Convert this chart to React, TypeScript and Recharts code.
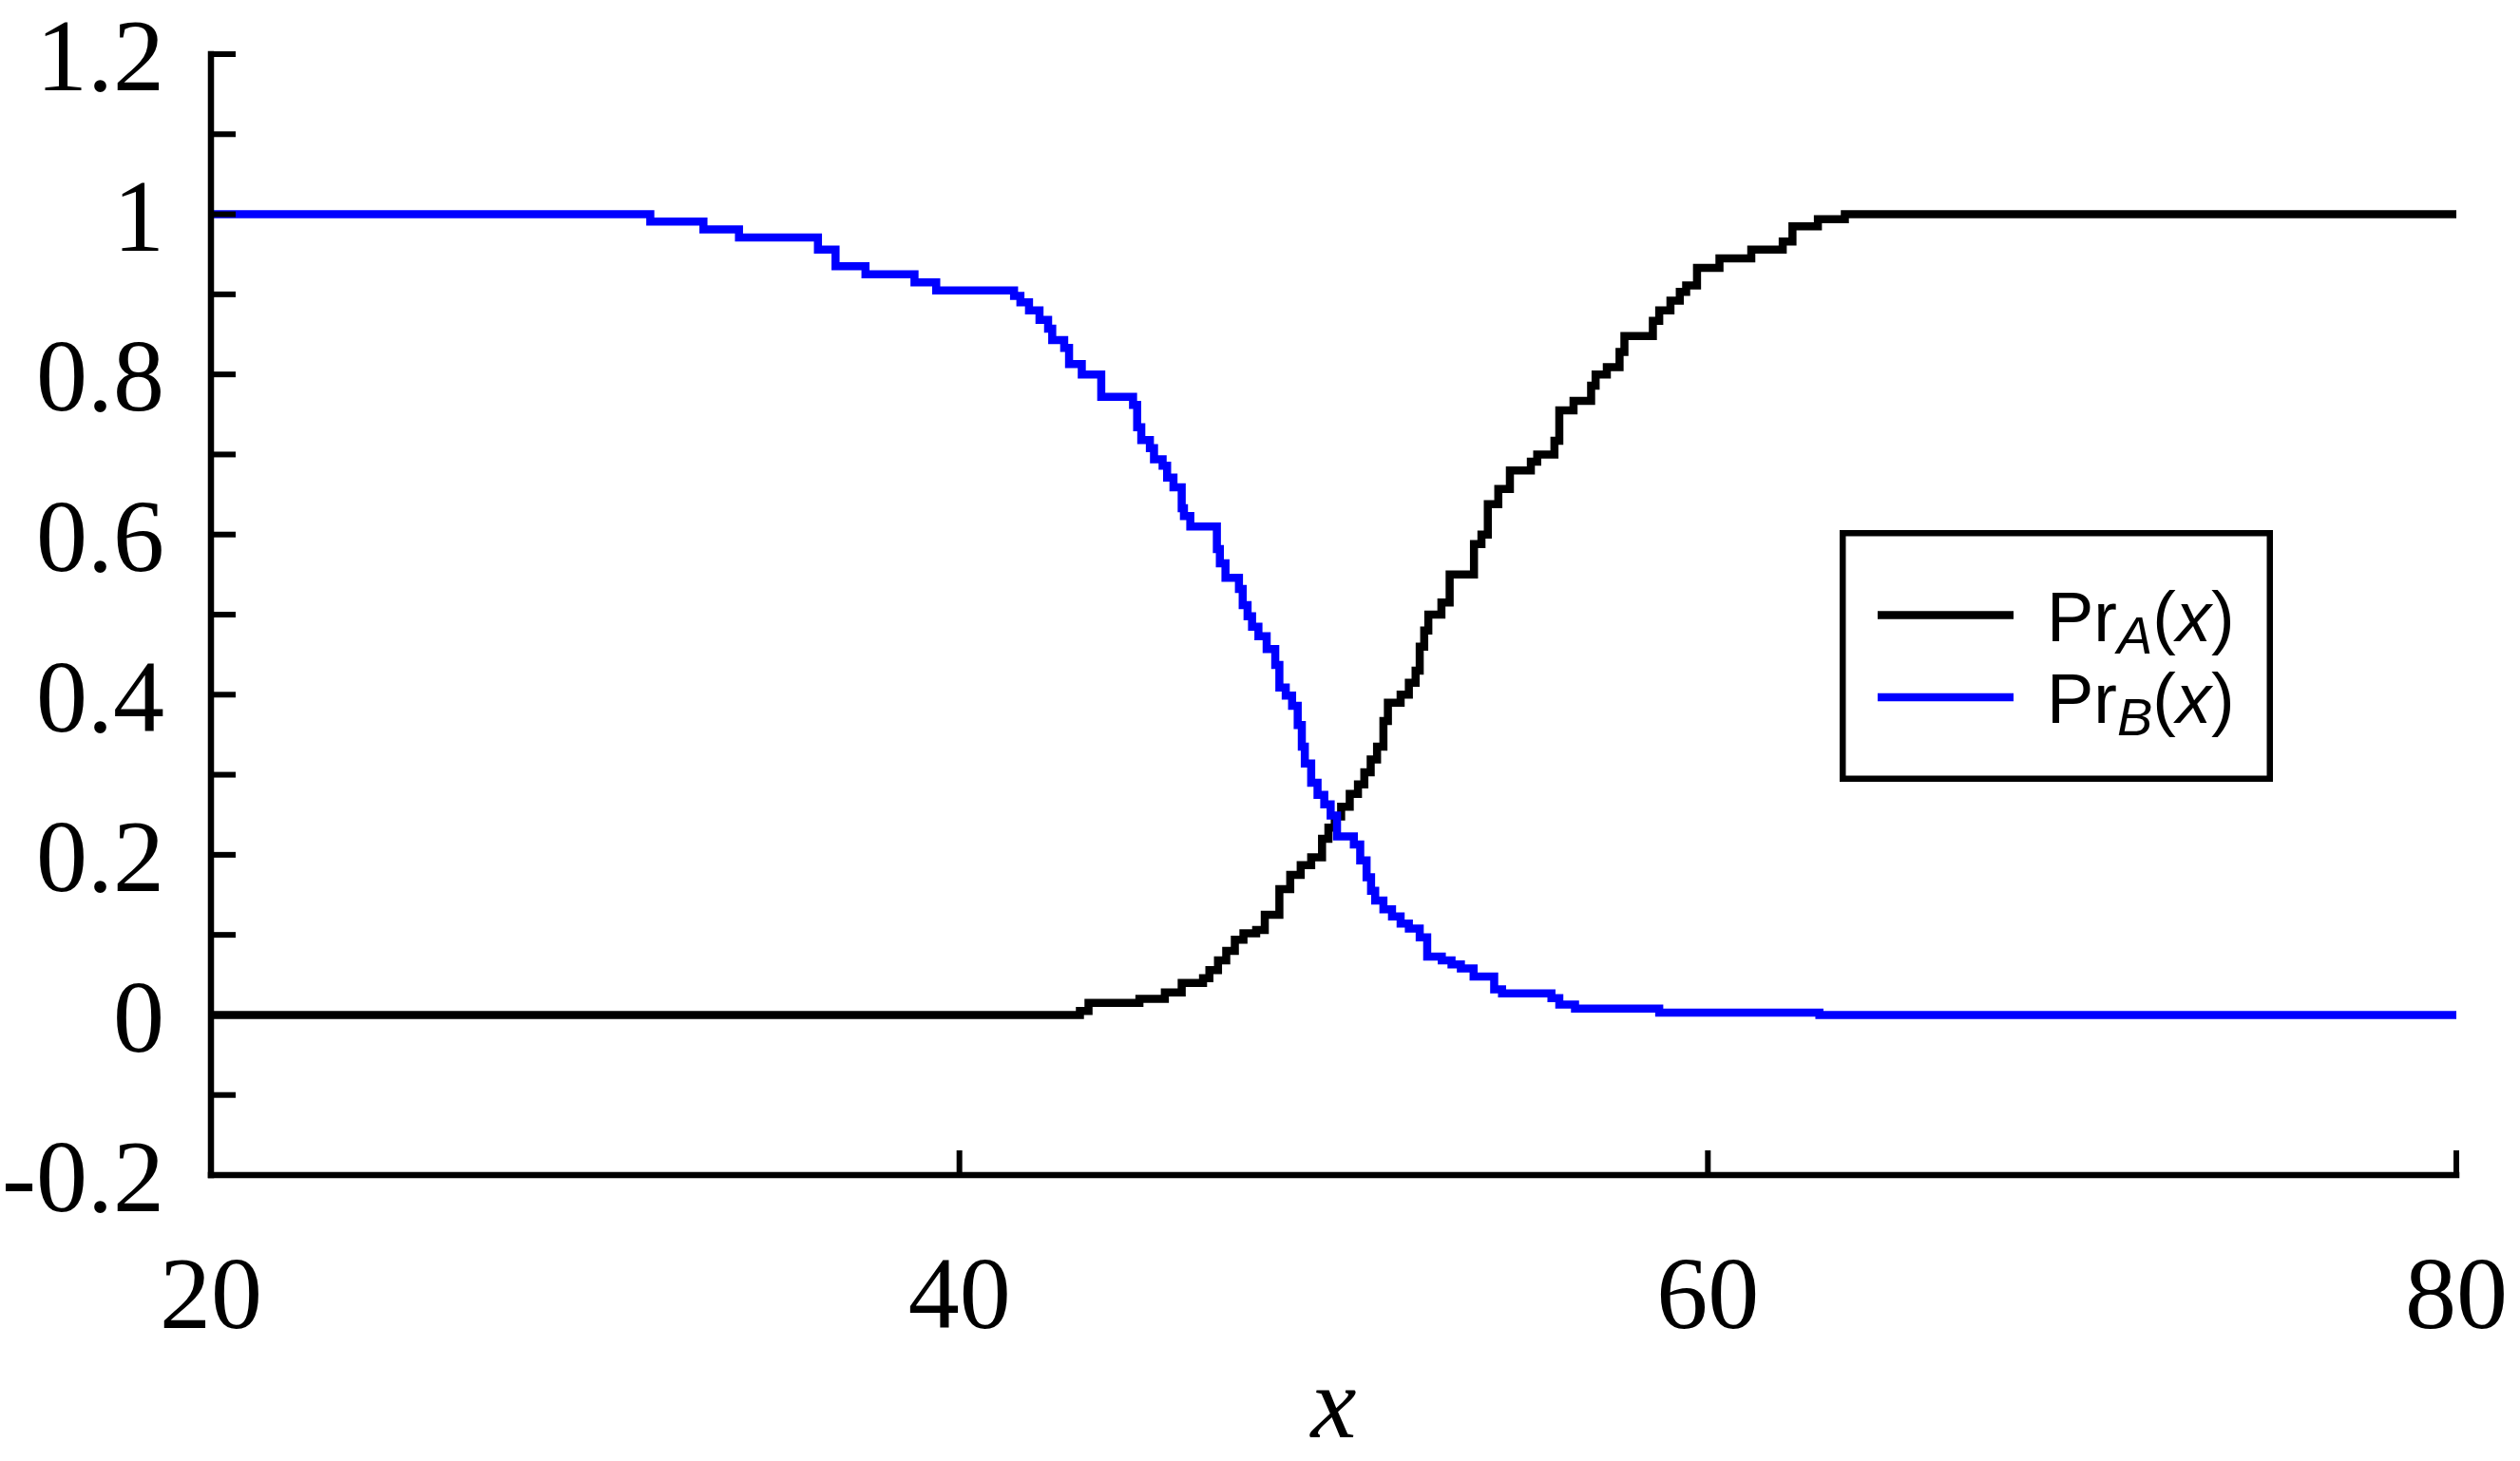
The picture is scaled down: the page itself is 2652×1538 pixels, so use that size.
import React from 'react';
import { LineChart, Line, XAxis, YAxis, Legend } from 'recharts';

// ---- axis ticks ----
const xTicks = [20, 40, 60, 80];
const yTicks = [-0.2, -0.1, 0, 0.1, 0.2, 0.3, 0.4, 0.5, 0.6, 0.7, 0.8, 0.9, 1.0, 1.1, 1.2];

// ---- Pr_A(x): step positions and levels ----
const prAx = [20, 43.22, 43.45, 44.81, 45.49, 45.94, 46.51, 46.68, 46.91, 47.13, 47.36, 47.59, 47.93, 48.16, 48.55,
  48.84, 49.12, 49.40, 49.69, 49.86, 50.03, 50.20, 50.43, 50.65, 50.82, 50.99, 51.16, 51.33, 51.45, 51.79, 52.01,
  52.19, 52.30, 52.42, 52.53, 52.88, 53.10, 53.75, 53.95, 54.12, 54.40, 54.71, 55.27, 55.44, 55.90, 56.03, 56.41,
  56.88, 57.00, 57.30, 57.64, 57.77, 58.53, 58.70, 59.00, 59.25, 59.42, 59.71, 60.31, 61.16, 62.00, 62.26, 62.94,
  63.66, 80];
const prAy = [0, 0.005, 0.015, 0.020, 0.028, 0.040, 0.046, 0.056, 0.068, 0.080, 0.094, 0.102, 0.106, 0.125, 0.157,
  0.175, 0.187, 0.197, 0.220, 0.234, 0.248, 0.260, 0.276, 0.288, 0.303, 0.319, 0.335, 0.367, 0.390, 0.400, 0.415,
  0.430, 0.460, 0.480, 0.500, 0.515, 0.550, 0.588, 0.600, 0.638, 0.657, 0.680, 0.691, 0.700, 0.717, 0.755, 0.767,
  0.786, 0.800, 0.809, 0.828, 0.848, 0.867, 0.880, 0.892, 0.903, 0.911, 0.933, 0.945, 0.956, 0.966, 0.985, 0.994,
  1.0, 1.0];

// ---- Pr_B(x): step positions and levels ----
const prBx = [20, 31.74, 33.16, 34.11, 36.22, 36.69, 37.49, 38.80, 39.38, 41.46, 41.63, 41.86, 42.14, 42.37, 42.48,
  42.80, 42.93, 43.27, 43.79, 44.64, 44.75, 44.86, 45.09, 45.20, 45.43, 45.55, 45.72, 45.94, 46.00, 46.17, 46.88,
  46.96, 47.11, 47.47, 47.57, 47.70, 47.82, 47.99, 48.21, 48.44, 48.55, 48.72, 48.89, 49.04, 49.15, 49.23, 49.40,
  49.57, 49.75, 49.92, 50.09, 50.54, 50.71, 50.88, 51.00, 51.11, 51.33, 51.56, 51.79, 52.01, 52.30, 52.50, 52.89,
  53.15, 53.40, 53.74, 54.29, 54.50, 55.82, 56.03, 56.45, 58.70, 62.98, 80];
const prBy = [1.0, 0.991, 0.981, 0.971, 0.956, 0.935, 0.925, 0.915, 0.905, 0.898, 0.890, 0.880, 0.868, 0.857, 0.843,
  0.833, 0.813, 0.800, 0.772, 0.762, 0.734, 0.718, 0.708, 0.694, 0.686, 0.671, 0.659, 0.633, 0.623, 0.610, 0.582,
  0.564, 0.546, 0.532, 0.512, 0.498, 0.485, 0.473, 0.457, 0.437, 0.409, 0.399, 0.386, 0.362, 0.335, 0.314, 0.290,
  0.275, 0.263, 0.249, 0.223, 0.213, 0.193, 0.172, 0.155, 0.143, 0.132, 0.123, 0.114, 0.108, 0.097, 0.073, 0.068,
  0.063, 0.058, 0.048, 0.032, 0.027, 0.021, 0.013, 0.008, 0.003, 0, 0];

const seriesSubs = ['A', 'B'];
const seriesColors = ['#000000', '#0000ff'];

const dataA = prAx.map((x, i) => ({ x, y: prAy[i] }));
const dataB = prBx.map((x, i) => ({ x, y: prBy[i] }));

const W = 2652;
const H = 1538;
const serif = '"Liberation Serif", "Times New Roman", serif';
const sans = '"Liberation Sans", Arial, sans-serif';

const fmtY = (v: number) => {
  const k = Math.round(v * 10);
  return k % 2 === 0 ? String(k / 10) : '';
};
const blank = () => '';

const axisLine = { stroke: '#000', strokeWidth: 6.5, strokeLinecap: 'square' as const };
const tickLine = { stroke: '#000', strokeWidth: 6 };
const tickFont = { fill: '#000', fontSize: 108, fontFamily: serif };

const LegendBox = () => (
  <svg width={456} height={265} style={{ display: 'block' }}>
    <rect x={3.25} y={3.25} width={449.5} height={258.5} fill="#fff" stroke="#000" strokeWidth={6.5} />
    {seriesSubs.map((s, i) => (
      <g key={s}>
        <line x1={40} x2={183} y1={89.5 + i * 86.5} y2={89.5 + i * 86.5} stroke={seriesColors[i]} strokeWidth={8.5} />
        <text x={218} y={117 + i * 86} fontFamily={sans} fontSize={74} fill="#000">
          Pr
          <tspan fontStyle="italic" fontSize={56} dy={13}>{s}</tspan>
          <tspan dy={-13}>(</tspan>
          <tspan fontStyle="italic">x</tspan>
          <tspan>)</tspan>
        </text>
      </g>
    ))}
  </svg>
);

export default function App() {
  return (
    <div style={{ position: 'absolute', left: 0, top: 0, width: W, height: H, background: '#fff' }}>
      <LineChart width={W} height={H} margin={{ top: 57, right: 67, bottom: 0, left: 0 }}>
        <XAxis
          xAxisId="b"
          type="number"
          dataKey="x"
          domain={[20, 80]}
          ticks={xTicks}
          interval={0}
          allowDataOverflow
          height={301}
          tickSize={-26}
          tickMargin={110}
          axisLine={axisLine}
          tickLine={tickLine}
          tick={tickFont}
          label={{ value: 'x', position: 'insideBottom', offset: 25, fill: '#000', fontSize: 108, fontFamily: serif, fontStyle: 'italic' }}
        />
        <XAxis
          xAxisId="t"
          orientation="top"
          type="number"
          dataKey="x"
          domain={[20, 80]}
          ticks={xTicks}
          interval={0}
          allowDataOverflow
          height={0}
          tickSize={-25}
          tickFormatter={blank}
          axisLine={axisLine}
          tickLine={tickLine}
        />
        <YAxis
          yAxisId="l"
          type="number"
          domain={[-0.2, 1.2]}
          ticks={yTicks}
          interval={0}
          allowDataOverflow
          width={222}
          tickSize={-26}
          tickMargin={75}
          tickFormatter={fmtY}
          axisLine={axisLine}
          tickLine={tickLine}
          tick={tickFont}
        />
        <YAxis
          yAxisId="r"
          orientation="right"
          type="number"
          domain={[-0.2, 1.2]}
          ticks={yTicks}
          interval={0}
          allowDataOverflow
          width={0}
          tickSize={-24}
          tickFormatter={blank}
          axisLine={axisLine}
          tickLine={tickLine}
        />
        <Line
          xAxisId="b"
          yAxisId="l"
          data={dataA}
          dataKey="y"
          type="stepAfter"
          stroke={seriesColors[0]}
          strokeWidth={8.5}
          dot={false}
          activeDot={false}
          isAnimationActive={false}
        />
        <Line
          xAxisId="b"
          yAxisId="l"
          data={dataB}
          dataKey="y"
          type="stepAfter"
          stroke={seriesColors[1]}
          strokeWidth={8.5}
          dot={false}
          activeDot={false}
          isAnimationActive={false}
        />
        <Legend
          layout="horizontal"
          verticalAlign="middle"
          align="center"
          wrapperStyle={{ left: 1936, top: 558, width: 456, height: 265 }}
          content={() => <LegendBox />}
        />
      </LineChart>
    </div>
  );
}
